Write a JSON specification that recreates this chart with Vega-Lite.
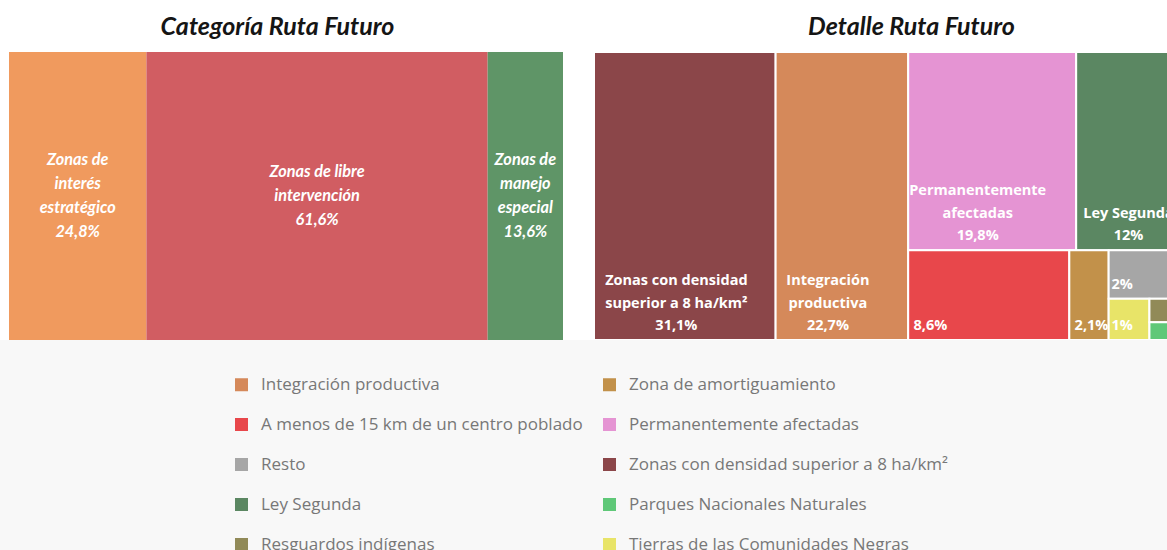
{
  "$schema": "https://vega.github.io/schema/vega-lite/v6.json",
  "background": "white",
  "padding": {"left": 0, "top": 15, "right": 0, "bottom": 0},
  "config": {"view": {"stroke": null}},
  "datasets": {
    "categoria": [
      {"nombre": "Zonas de interés estratégico", "rotulo": "Zonas de\ninterés\nestratégico", "valor": 24.8, "l1": 1},
      {"nombre": "Zonas de libre intervención", "rotulo": "Zonas de libre\nintervención", "valor": 61.6, "l1": 2},
      {"nombre": "Zonas de manejo especial", "rotulo": "Zonas de\nmanejo\nespecial", "valor": 13.6, "l1": 3}
    ],
    "detalle": [
      {"nombre": "Zonas con densidad superior a 8 ha/km²", "rotulo": "Zonas con densidad\nsuperior a 8 ha/km²", "valor": 31.1, "l1": 1, "l2": 0, "l3": 0, "l4": 0, "l5": 0, "l6": 0},
      {"nombre": "Integración productiva", "rotulo": "Integración\nproductiva", "valor": 22.7, "l1": 2, "l2": 0, "l3": 0, "l4": 0, "l5": 0, "l6": 0},
      {"nombre": "Permanentemente afectadas", "rotulo": "Permanentemente\nafectadas", "valor": 19.8, "l1": 3, "l2": 1, "l3": 1, "l4": 0, "l5": 0, "l6": 0},
      {"nombre": "Ley Segunda", "rotulo": "Ley Segunda", "valor": 12, "l1": 3, "l2": 1, "l3": 2, "l4": 0, "l5": 0, "l6": 0},
      {"nombre": "A menos de 15 km de un centro poblado", "rotulo": "", "valor": 8.6, "l1": 3, "l2": 2, "l3": 1, "l4": 0, "l5": 0, "l6": 0},
      {"nombre": "Zona de amortiguamiento", "rotulo": "", "valor": 2.1, "l1": 3, "l2": 2, "l3": 2, "l4": 0, "l5": 0, "l6": 0},
      {"nombre": "Resto", "rotulo": "", "valor": 2, "l1": 3, "l2": 2, "l3": 3, "l4": 1, "l5": 0, "l6": 0},
      {"nombre": "Tierras de las Comunidades Negras", "rotulo": "", "valor": 1, "l1": 3, "l2": 2, "l3": 3, "l4": 2, "l5": 1, "l6": 0},
      {"nombre": "Resguardos indígenas", "rotulo": "", "valor": 0.4, "l1": 3, "l2": 2, "l3": 3, "l4": 2, "l5": 2, "l6": 1},
      {"nombre": "Parques Nacionales Naturales", "rotulo": "", "valor": 0.3, "l1": 3, "l2": 2, "l3": 3, "l4": 2, "l5": 2, "l6": 2}
    ]
  },
  "vconcat": [
    {
      "hconcat": [
        {
          "width": 563,
          "height": 288,
          "title": {"text": "Categoría Ruta Futuro", "font": "Lato", "fontSize": 25, "fontWeight": "bold", "fontStyle": "italic", "color": "#151515", "anchor": "middle", "baseline": "alphabetic", "offset": -8, "dx": -4},
          "data": {"name": "categoria"},
          "transform": [
            {"stack": "valor", "groupby": [], "sort": [{"field": "l1", "order": "ascending"}], "as": ["x0", "x1"]},
            {"calculate": "(datum.x0 + datum.x1) / 2", "as": "xm"},
            {"calculate": "datum.rotulo + '\\n' + replace(format(datum.valor, '.1~f'), '.', ',') + '%'", "as": "txt"},
            {"calculate": "0.5 - (length(split(datum.txt, '\\n')) - 1) * 24.3 / 2 / 288", "as": "yt"}
          ],
          "layer": [
            {
              "mark": {"type": "rect"},
              "encoding": {
                "x": {"field": "x0", "type": "quantitative", "scale": {"domain": [-1.6245, 100], "nice": false, "zero": false}, "axis": null},
                "x2": {"field": "x1"},
                "color": {"field": "nombre", "type": "nominal", "scale": {"domain": ["Zonas de interés estratégico", "Zonas de libre intervención", "Zonas de manejo especial"], "range": ["#f09a5e", "#d15d62", "#5f9567"]}, "legend": null}
              }
            },
            {
              "mark": {"type": "text", "font": "Lato", "fontSize": 16.3, "fontWeight": "bold", "fontStyle": "italic", "color": "white", "align": "center", "baseline": "middle", "lineBreak": "\n", "lineHeight": 24.3},
              "encoding": {
                "x": {"field": "xm", "type": "quantitative"},
                "y": {"field": "yt", "type": "quantitative", "scale": {"domain": [0, 1], "reverse": true, "nice": false, "zero": false}, "axis": null},
                "text": {"field": "txt"}
              }
            }
          ]
        },
        {
          "width": 573,
          "height": 288,
          "title": {"text": "Detalle Ruta Futuro", "font": "Lato", "fontSize": 25, "fontWeight": "bold", "fontStyle": "italic", "color": "#151515", "anchor": "middle", "baseline": "alphabetic", "offset": -8, "dx": 31},
          "data": {"name": "detalle"},
          "transform": [
            {"joinaggregate": [{"op": "sum", "field": "valor", "as": "t0"}]},
            {"joinaggregate": [{"op": "sum", "field": "valor", "as": "t1"}], "groupby": ["l1"]},
            {"joinaggregate": [{"op": "sum", "field": "valor", "as": "t2"}], "groupby": ["l1", "l2"]},
            {"joinaggregate": [{"op": "sum", "field": "valor", "as": "t3"}], "groupby": ["l1", "l2", "l3"]},
            {"joinaggregate": [{"op": "sum", "field": "valor", "as": "t4"}], "groupby": ["l1", "l2", "l3", "l4"]},
            {"joinaggregate": [{"op": "sum", "field": "valor", "as": "t5"}], "groupby": ["l1", "l2", "l3", "l4", "l5"]},
            {"window": [{"op": "sum", "field": "valor", "as": "c1"}], "sort": [{"field": "l1"}], "frame": [null, 0], "ignorePeers": false},
            {"window": [{"op": "sum", "field": "valor", "as": "c2"}], "groupby": ["l1"], "sort": [{"field": "l2"}], "frame": [null, 0], "ignorePeers": false},
            {"window": [{"op": "sum", "field": "valor", "as": "c3"}], "groupby": ["l1", "l2"], "sort": [{"field": "l3"}], "frame": [null, 0], "ignorePeers": false},
            {"window": [{"op": "sum", "field": "valor", "as": "c4"}], "groupby": ["l1", "l2", "l3"], "sort": [{"field": "l4"}], "frame": [null, 0], "ignorePeers": false},
            {"window": [{"op": "sum", "field": "valor", "as": "c5"}], "groupby": ["l1", "l2", "l3", "l4"], "sort": [{"field": "l5"}], "frame": [null, 0], "ignorePeers": false},
            {"window": [{"op": "sum", "field": "valor", "as": "c6"}], "groupby": ["l1", "l2", "l3", "l4", "l5"], "sort": [{"field": "l6"}], "frame": [null, 0], "ignorePeers": false},
            {"calculate": "(datum.c1 - datum.t1) / datum.t0", "as": "xa0"},
            {"calculate": "datum.c1 / datum.t0", "as": "xa1"},
            {"calculate": "(datum.c2 - datum.t2) / datum.t1", "as": "ya0"},
            {"calculate": "datum.c2 / datum.t1", "as": "ya1"},
            {"calculate": "datum.xa0 + (datum.c3 - datum.t3) / datum.t2 * (datum.xa1 - datum.xa0)", "as": "xb0"},
            {"calculate": "datum.xa0 + datum.c3 / datum.t2 * (datum.xa1 - datum.xa0)", "as": "xb1"},
            {"calculate": "datum.ya0 + (datum.c4 - datum.t4) / datum.t3 * (datum.ya1 - datum.ya0)", "as": "yb0"},
            {"calculate": "datum.ya0 + datum.c4 / datum.t3 * (datum.ya1 - datum.ya0)", "as": "yb1"},
            {"calculate": "datum.xb0 + (datum.c5 - datum.t5) / datum.t4 * (datum.xb1 - datum.xb0)", "as": "xc0"},
            {"calculate": "datum.xb0 + datum.c5 / datum.t4 * (datum.xb1 - datum.xb0)", "as": "xc1"},
            {"calculate": "datum.yb0 + (datum.c6 - datum.valor) / datum.t5 * (datum.yb1 - datum.yb0)", "as": "yc0"},
            {"calculate": "datum.yb0 + datum.c6 / datum.t5 * (datum.yb1 - datum.yb0)", "as": "yc1"},
            {"calculate": "(datum.rotulo ? datum.rotulo + '\\n' : '') + replace(format(datum.valor, '.1~f'), '.', ',') + '%'", "as": "txt"},
            {"calculate": "indexof(datum.txt, '\\n') >= 0 ? indexof(datum.txt, '\\n') : length(datum.txt)", "as": "fl"},
            {"calculate": "datum.xc0 + (5 + datum.fl * 4.3) / 584", "as": "xt"},
            {"calculate": "datum.yc1 - (length(split(datum.txt, '\\n')) - 1) * 22.5 / 288", "as": "yt"}
          ],
          "layer": [
            {
              "mark": {"type": "rect", "stroke": "white", "strokeWidth": 2, "clip": true},
              "encoding": {
                "x": {"field": "xc0", "type": "quantitative", "scale": {"domain": [0, 0.9812], "nice": false, "zero": false}, "axis": null},
                "x2": {"field": "xc1"},
                "y": {"field": "yc0", "type": "quantitative", "scale": {"domain": [0, 1], "reverse": true, "nice": false, "zero": false}, "axis": null},
                "y2": {"field": "yc1"},
                "color": {"field": "nombre", "type": "nominal", "scale": {"domain": ["Integración productiva", "Zona de amortiguamiento", "A menos de 15 km de un centro poblado", "Permanentemente afectadas", "Resto", "Zonas con densidad superior a 8 ha/km²", "Ley Segunda", "Parques Nacionales Naturales", "Resguardos indígenas", "Tierras de las Comunidades Negras"], "range": ["#d5895a", "#c2914a", "#e8474b", "#e594d3", "#a6a6a6", "#8b4649", "#5b8762", "#5fc878", "#918a58", "#e8e468"]}, "legend": null}
              }
            },
            {
              "transform": [{"filter": "datum.valor >= 1"}],
              "mark": {"type": "text", "font": "Open Sans", "fontSize": 14.5, "fontWeight": "bold", "color": "white", "align": "center", "baseline": "bottom", "dy": -7, "lineBreak": "\n", "lineHeight": 22.5, "clip": true},
              "encoding": {
                "x": {"field": "xt", "type": "quantitative"},
                "y": {"field": "yt", "type": "quantitative"},
                "text": {"field": "txt"}
              }
            }
          ]
        }
      ],
      "spacing": 31,
      "resolve": {"scale": {"color": "independent", "x": "independent", "y": "independent"}, "legend": {"color": "independent"}}
    },
    {
      "width": 1167,
      "height": 210,
      "view": {"fill": "#f8f8f8", "stroke": null},
      "data": {"name": "detalle"},
      "mark": {"type": "square", "opacity": 0},
      "encoding": {
        "color": {
          "field": "nombre",
          "type": "nominal",
          "scale": {"domain": ["Integración productiva", "A menos de 15 km de un centro poblado", "Resto", "Ley Segunda", "Resguardos indígenas", "Zona de amortiguamiento", "Permanentemente afectadas", "Zonas con densidad superior a 8 ha/km²", "Parques Nacionales Naturales", "Tierras de las Comunidades Negras"], "range": ["#d5895a", "#e8474b", "#a6a6a6", "#5b8762", "#918a58", "#c2914a", "#e594d3", "#8b4649", "#5fc878", "#e8e468"]},
          "legend": {"orient": "none", "legendX": 233, "legendY": 36, "columns": 2, "title": null, "symbolType": "square", "symbolSize": 169, "symbolOpacity": 1, "symbolStrokeWidth": 0, "labelFont": "Open Sans", "labelFontSize": 17, "labelColor": "#777777", "labelOffset": 11, "rowPadding": 22, "columnPadding": 18, "labelLimit": 0, "padding": 0}
        }
      }
    }
  ],
  "spacing": 0,
  "resolve": {"scale": {"color": "independent"}, "legend": {"color": "independent"}}
}
